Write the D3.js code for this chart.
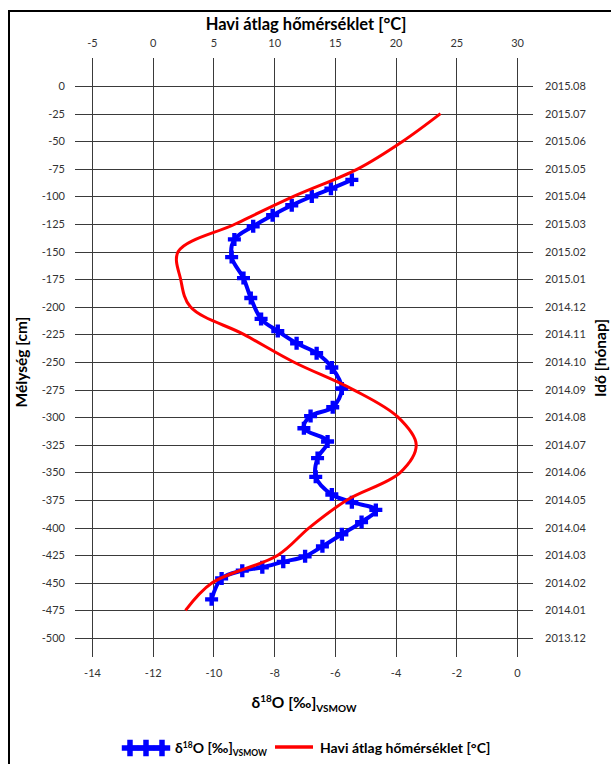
<!DOCTYPE html>
<html>
<head>
<meta charset="utf-8">
<script src="https://cdn.jsdelivr.net/npm/d3@7"></script>
<style>
  body { margin: 0; background: #fff; }
  svg { display: block; font-family: Lato, "Open Sans", sans-serif; }
</style>
</head>
<body>
<svg id="chart" width="611" height="764"></svg>
<script>
// depth ticks (cm) and the month each one stands for
const depthTicks = [0, -25, -50, -75, -100, -125, -150, -175, -200, -225, -250,
  -275, -300, -325, -350, -375, -400, -425, -450, -475, -500];
const monthLabels = ["2015.08", "2015.07", "2015.06", "2015.05", "2015.04", "2015.03",
  "2015.02", "2015.01", "2014.12", "2014.11", "2014.10", "2014.09", "2014.08",
  "2014.07", "2014.06", "2014.05", "2014.04", "2014.03", "2014.02", "2014.01", "2013.12"];
const deltaTicks = [-14, -12, -10, -8, -6, -4, -2, 0];
const tempTicks = [-5, 0, 5, 10, 15, 20, 25, 30];

// d18O samples
const sampleDepth = [-85, -93, -100, -108, -117, -127, -139, -155, -174, -192, -211,
  -222, -233, -242, -255, -274, -291, -299, -310, -322, -337, -354, -370, -377,
  -384, -395, -406, -417, -426, -431, -436, -439, -446, -465];
const sampleDelta = [-5.44, -6.13, -6.76, -7.42, -8.05, -8.69, -9.31, -9.4, -9.01, -8.77,
  -8.43, -7.88, -7.26, -6.6, -6.1, -5.77, -6.07, -6.8, -7.02, -6.24, -6.57, -6.63,
  -6.1, -5.44, -4.65, -5.12, -5.77, -6.41, -6.98, -7.7, -8.39, -9.05, -9.73, -10.06];

// monthly mean air temperature, placed at the month's depth
const tempDepth = [-25, -50, -75, -100, -125, -150, -175, -200, -225, -250, -275,
  -300, -325, -350, -375, -400, -425, -450, -475];
const tempValue = [23.7, 20.6, 16.9, 11.6, 6.8, 2.1, 2.3, 3.1, 7.5, 11.6, 16.5,
  20.2, 21.7, 20.4, 16.0, 12.9, 10.3, 4.9, 2.7];

const svg = d3.select("#chart");
const gridTop = 58, gridBottom = 657, gridLeft = 75, gridRight = 533;
const ink = "#333";
const plain = d => String(d); // hyphen minus, like the original

const x = d3.scaleLinear().domain([-14, 0]).range([92, 517]);
const xTemp = d3.scaleLinear().domain([-5, 30]).range([92, 517]);
const y = d3.scaleLinear().domain([0, -500]).range([86, 638]);

// frame
svg.append("rect")
  .attr("x", 9).attr("y", 11)
  .attr("width", 640).attr("height", 800)
  .attr("fill", "none").attr("stroke", "#000").attr("stroke-width", 2);

function styleAxis(g) {
  g.select(".domain").remove();
  g.attr("font-family", null).attr("font-size", null);
  g.selectAll(".tick line").attr("stroke", "#3a3a3a").attr("shape-rendering", "crispEdges");
  g.selectAll(".tick text").attr("fill", ink).attr("font-size", 11);
}

// left axis: depth labels + horizontal grid
svg.append("g")
  .attr("id", "leftAxis")
  .attr("transform", `translate(${gridLeft},0)`)
  .call(d3.axisLeft(y).tickValues(depthTicks).tickFormat(plain)
    .tickSize(-(517 - gridLeft)).tickPadding(10))
  .call(styleAxis);

// right axis: months
svg.append("g")
  .attr("id", "rightAxis")
  .attr("transform", "translate(517,0)")
  .call(d3.axisRight(y).tickValues(depthTicks).tickSize(gridRight - 517).tickPadding(12)
    .tickFormat((d, i) => monthLabels[i]))
  .call(styleAxis);

// bottom axis: d18O labels + vertical grid
svg.append("g")
  .attr("id", "bottomAxis")
  .attr("transform", `translate(0,${gridBottom})`)
  .call(d3.axisBottom(x).tickValues(deltaTicks).tickFormat(plain)
    .tickSize(-(gridBottom - gridTop)).tickPadding(12))
  .call(styleAxis);

// top axis: temperature labels
svg.append("g")
  .attr("id", "topAxis")
  .attr("transform", `translate(0,${gridTop})`)
  .call(d3.axisTop(xTemp).tickValues(tempTicks).tickFormat(plain).tickSize(0).tickPadding(11))
  .call(styleAxis);

// series
const samples = sampleDepth.map((d, i) => ({ depth: d, delta: sampleDelta[i] }));
const temps = tempDepth.map((d, i) => ({ depth: d, temp: tempValue[i] }));

const blueLine = d3.line()
  .x(d => x(d.delta))
  .y(d => y(d.depth))
  .curve(d3.curveCatmullRom.alpha(0.5));

const redLine = d3.line()
  .x(d => xTemp(d.temp))
  .y(d => y(d.depth))
  .curve(d3.curveCatmullRom.alpha(0.5));

const plus = d3.symbol().type(d3.symbolCross);

const delta = svg.append("g").attr("id", "delta");
delta.append("path")
  .attr("d", blueLine(samples))
  .attr("fill", "none").attr("stroke", "#0000ff").attr("stroke-width", 4);
delta.selectAll("path.marker")
  .data(samples)
  .join("path")
  .attr("class", "marker")
  .attr("transform", d => `translate(${x(d.delta)},${y(d.depth)})`)
  .attr("d", plus.size(94)())
  .attr("fill", "#0000ff");

svg.append("path")
  .attr("id", "temperature")
  .attr("d", redLine(temps))
  .attr("fill", "none").attr("stroke", "#ff0000").attr("stroke-width", 3);

// titles
svg.append("text")
  .attr("x", 306).attr("y", 30)
  .attr("text-anchor", "middle")
  .attr("font-weight", "bold").attr("font-size", 16.5)
  .text("Havi átlag hőmérséklet [°C]");

const xTitle = svg.append("text")
  .attr("x", 304).attr("y", 708)
  .attr("text-anchor", "middle")
  .attr("font-weight", "bold").attr("font-size", 15.5);
xTitle.append("tspan").text("δ");
xTitle.append("tspan").attr("font-size", 10).attr("dy", -6).text("18");
xTitle.append("tspan").attr("dy", 6).text("O [‰]");
xTitle.append("tspan").attr("font-size", 10).attr("dy", 4).text("VSMOW");

svg.append("text")
  .attr("transform", "translate(27,362) rotate(-90)")
  .attr("text-anchor", "middle")
  .attr("font-weight", "bold").attr("font-size", 15.5)
  .text("Mélység [cm]");

svg.append("text")
  .attr("transform", "translate(606,358) rotate(-90)")
  .attr("text-anchor", "middle")
  .attr("font-weight", "bold").attr("font-size", 15.5)
  .text("Idő [hónap]");

// legend
const legend = svg.append("g").attr("id", "legend");
legend.append("line")
  .attr("x1", 127).attr("x2", 165).attr("y1", 748).attr("y2", 748)
  .attr("stroke", "#0000ff").attr("stroke-width", 5);
legend.selectAll("path.marker")
  .data([130, 146, 162])
  .join("path")
  .attr("class", "marker")
  .attr("transform", d => `translate(${d},748)`)
  .attr("d", plus.size(150)())
  .attr("fill", "#0000ff");

const lt = legend.append("text")
  .attr("x", 175).attr("y", 753)
  .attr("font-weight", "bold").attr("font-size", 14);
lt.append("tspan").text("δ");
lt.append("tspan").attr("font-size", 8.5).attr("dy", -5).text("18");
lt.append("tspan").attr("dy", 5).text("O [‰]");
lt.append("tspan").attr("font-size", 8.5).attr("dy", 3).text("VSMOW");

legend.append("line")
  .attr("x1", 275).attr("x2", 313).attr("y1", 747).attr("y2", 747)
  .attr("stroke", "#ff0000").attr("stroke-width", 3.5);
legend.append("text")
  .attr("x", 320).attr("y", 753)
  .attr("font-weight", "bold").attr("font-size", 14)
  .text("Havi átlag hőmérséklet [°C]");
</script>
</body>
</html>
